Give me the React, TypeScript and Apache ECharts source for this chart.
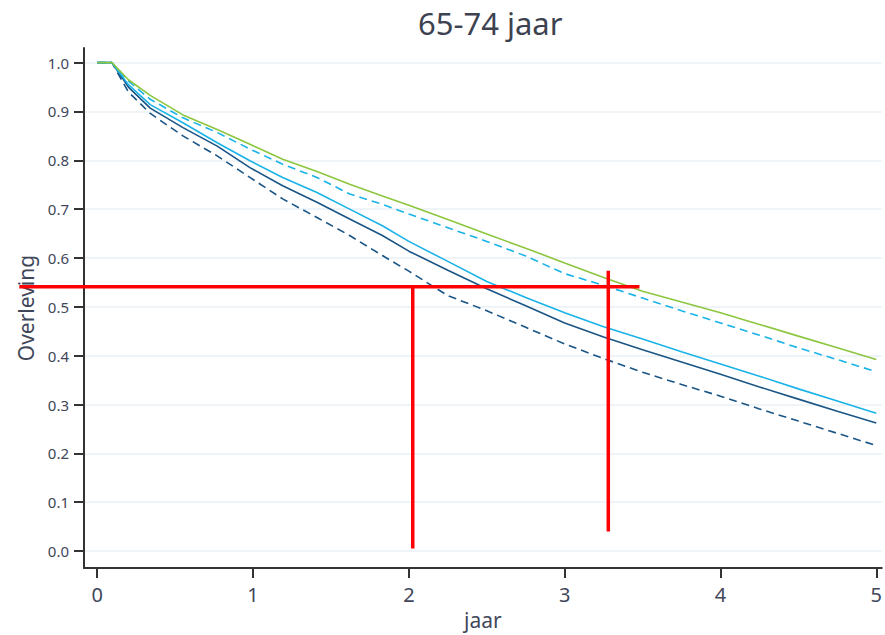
import React, { useEffect, useRef } from "react";
import * as echarts from "echarts";

const yearsX = [0, 0.094, 0.2, 0.34, 0.55, 0.77, 0.98, 1.19, 1.41, 1.62, 1.83, 2.0, 2.25, 2.5, 2.75, 3.0, 3.25, 3.5, 3.75, 4.0, 4.25, 4.5, 4.75, 5.0];

const greenSolid = [1, 1, 0.965, 0.933, 0.893, 0.863, 0.833, 0.802, 0.777, 0.751, 0.727, 0.708, 0.679, 0.649, 0.62, 0.59, 0.56, 0.532, 0.51, 0.488, 0.464, 0.44, 0.416, 0.392];
const lightDashed = [1, 1, 0.962, 0.925, 0.887, 0.857, 0.823, 0.792, 0.765, 0.731, 0.71, 0.69, 0.662, 0.634, 0.604, 0.568, 0.544, 0.518, 0.492, 0.467, 0.442, 0.416, 0.392, 0.367];
const lightSolid = [1, 1, 0.955, 0.914, 0.877, 0.836, 0.799, 0.765, 0.734, 0.7, 0.666, 0.634, 0.593, 0.552, 0.519, 0.488, 0.459, 0.434, 0.408, 0.383, 0.358, 0.332, 0.307, 0.282];
const darkSolid = [1, 1, 0.95, 0.907, 0.867, 0.829, 0.785, 0.748, 0.714, 0.68, 0.646, 0.614, 0.575, 0.537, 0.502, 0.467, 0.438, 0.412, 0.387, 0.362, 0.336, 0.311, 0.286, 0.262];
const darkDashed = [1, 1, 0.94, 0.896, 0.85, 0.809, 0.765, 0.721, 0.683, 0.646, 0.605, 0.573, 0.523, 0.492, 0.458, 0.424, 0.394, 0.366, 0.341, 0.317, 0.291, 0.266, 0.241, 0.216];

const refHorizontal = [[-0.5, 0.541], [3.48, 0.541]];
const refVertical1 = [[2.025, 0.541], [2.025, 0.005]];
const refVertical2 = [[3.28, 0.574], [3.28, 0.04]];

const xTicks = [0, 1, 2, 3, 4, 5];
const yTicks = [0, 0.1, 0.2, 0.3, 0.4, 0.5, 0.6, 0.7, 0.8, 0.9, 1.0];

const FONT = "'Noto Sans', 'Open Sans', sans-serif";
const TEXT = "#3f4759";

export default function App() {
  const ref = useRef<HTMLDivElement>(null);
  useEffect(() => {
    document.body.style.margin = "0";
    const chart = echarts.init(ref.current as HTMLDivElement, null, { renderer: "svg" });
    const pair = (ys: number[]) => yearsX.map((x, i) => [x, ys[i]]);
    const curve = (name: string, ys: number[], color: string, dashed: boolean) => ({
      name,
      type: "line",
      data: pair(ys),
      showSymbol: false,
      symbol: "none",
      lineStyle: { color, width: 1.6, type: dashed ? [8, 5] : "solid" },
      z: 3,
    });
    chart.setOption({
      animation: false,
      textStyle: { fontFamily: FONT },
      title: {
        text: "65-74 jaar",
        left: 413,
        top: 2,
        textStyle: { fontSize: 31, fontWeight: "normal", color: "#3d4250", fontFamily: FONT },
      },
      grid: { left: 84, right: 1, top: 48, bottom: 65, containLabel: false },
      xAxis: {
        type: "value",
        min: -0.085,
        max: 5.035,
        name: "jaar",
        nameLocation: "middle",
        nameGap: 40,
        nameTextStyle: { fontSize: 21, color: TEXT, fontFamily: FONT },
        axisLine: { onZero: false, lineStyle: { color: "#333333", width: 2 } },
        axisTick: { show: true, length: 10, customValues: xTicks, lineStyle: { color: "#333333", width: 2 } },
        axisLabel: { customValues: xTicks, fontSize: 20, color: TEXT, margin: 16, formatter: (v: number) => String(v) },
        splitLine: { show: false },
      },
      yAxis: {
        type: "value",
        min: -0.035,
        max: 1.03,
        name: "Overleving",
        nameLocation: "middle",
        nameGap: 48,
        nameTextStyle: { fontSize: 21, color: TEXT, fontFamily: FONT },
        axisLine: { show: true, onZero: false, lineStyle: { color: "#333333", width: 2 } },
        axisTick: { show: true, length: 10, customValues: yTicks, lineStyle: { color: "#333333", width: 2 } },
        axisLabel: { customValues: yTicks, fontSize: 15, color: TEXT, margin: 15, formatter: (v: number) => v.toFixed(1) },
        splitLine: { show: true, lineStyle: { color: "#e8f0f4", width: 1.5 } },
      },
      series: [
        curve("darkDashed", darkDashed, "#1a5585", true),
        curve("darkSolid", darkSolid, "#1a5585", false),
        curve("lightSolid", lightSolid, "#1ab3e8", false),
        curve("lightDashed", lightDashed, "#1ab3e8", true),
        curve("greenSolid", greenSolid, "#8cc63f", false),
      ],
    });
    const toPx = (p: number[]) => chart.convertToPixel({ gridIndex: 0 }, p) as number[];
    const redLine = (d: number[][]) => {
      const a = toPx(d[0]);
      const b = toPx(d[1]);
      return {
        type: "line",
        z: 10,
        shape: { x1: a[0], y1: a[1], x2: b[0], y2: b[1] },
        style: { stroke: "#ff0000", lineWidth: 3.5 },
      };
    };
    chart.setOption({
      graphic: [redLine(refHorizontal), redLine(refVertical1), redLine(refVertical2)],
    });
    return () => chart.dispose();
  }, []);
  return <div ref={ref} style={{ width: 885, height: 635 }} />;
}
